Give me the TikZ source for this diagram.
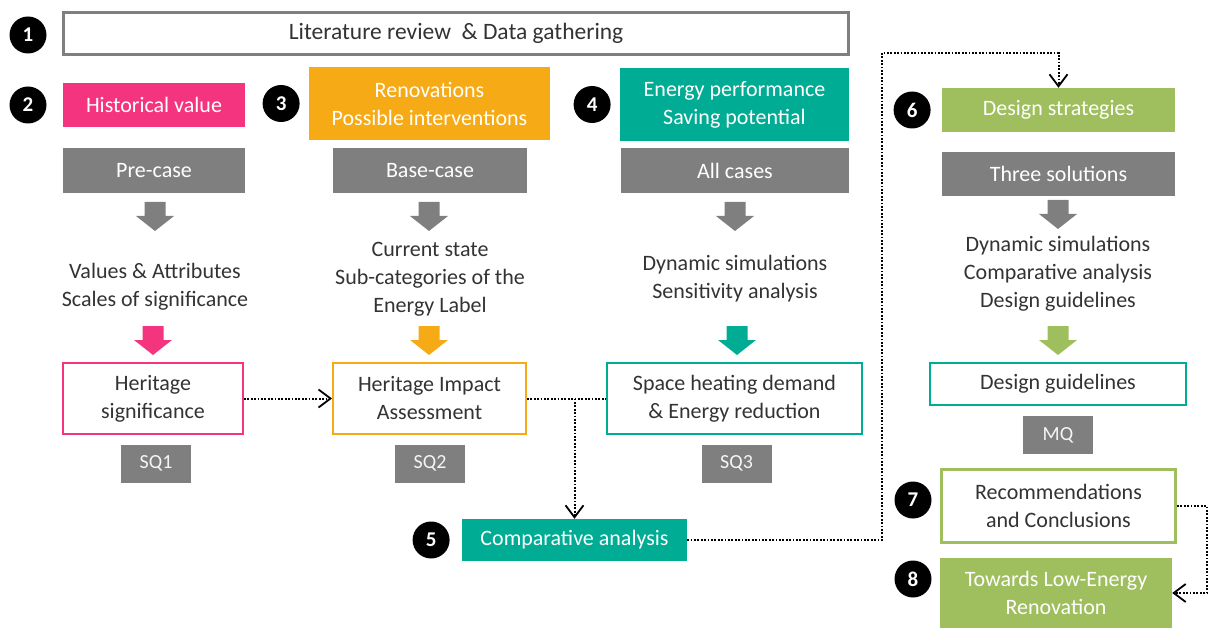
\documentclass[tikz,border=0pt]{standalone}
\usepackage{fontspec}
\setmainfont{Carlito}
\usetikzlibrary{arrows.meta,positioning}
\definecolor{pinkc}{HTML}{F5347F}
\definecolor{orangec}{HTML}{F6AA16}
\definecolor{tealc}{HTML}{00AC94}
\definecolor{greenc}{HTML}{9FBE5E}
\definecolor{grayc}{HTML}{7F7F7F}
\definecolor{inkc}{HTML}{333333}
\tikzset{txt/.style={font=\fontsize{22}{28}\selectfont,align=center,text=inkc,inner sep=0pt},
  fillbox/.style={txt,fill=#1,text=white,minimum height=44pt},
  linebox/.style={txt,draw=#1,line width=2pt,fill=white,minimum height=71pt},
  qbox/.style={fill=grayc,text=white!92!gray,font=\fontsize{20}{24}\selectfont,
    minimum width=70pt,minimum height=38pt,inner sep=0pt},
  num/.style={circle,fill=black,text=white,font=\fontsize{21}{24}\selectfont\bfseries,
    minimum size=37pt,inner sep=0pt},
  link/.style={black,line width=2pt,dash pattern=on 1.8pt off 1.6pt},
  tip/.style={-{Straight Barb[length=12pt,width=18pt,line width=1.8pt]}},
  dnarrow/.pic={\fill[#1] (-10.5,0) -- (10.5,0) -- (10.5,14) -- (19,14) -- (0,29) -- (-19,14) -- (-10.5,14) -- cycle;}}

\begin{document}
\begin{tikzpicture}[x=1pt,y=-1pt]
\useasboundingbox (0,0) rectangle (1209,628);
% step 1
\node[txt,draw=grayc,line width=3pt,minimum width=785pt,minimum height=42pt,
  font=\fontsize{23.5}{28}\selectfont] (lit) at (456,33.5) {Literature review~ \& Data gathering};
\node[num] (n1) at (28,35) {1};
% steps 2-4 and 6: headers
\node[fillbox=pinkc,minimum width=182pt] (hist) at (154,105) {Historical value};
\node[fillbox=orangec,minimum width=241pt,minimum height=73pt] (reno) at (429.5,103.5) {Renovations\\Possible interventions};
\node[fillbox=tealc,minimum width=229pt,minimum height=73pt] (enrg) at (734.5,104.5) {Energy performance\\Saving potential};
\node[fillbox=greenc,minimum width=233pt] (dstrat) at (1058.5,110) {Design strategies};
\node[num] (n2) at (28,105) {2};
\node[num,left=9pt of reno] (n3) {3};
\node[num,left=9pt of enrg] (n4) {4};
\node[num,left=11pt of dstrat] (n6) {6};
% cases
\node[fillbox=grayc,minimum width=182pt,minimum height=45pt] (pre) at (154,170.5) {Pre-case};
\node[fillbox=grayc,minimum width=194pt,minimum height=45pt] (base) at (430,170.5) {Base-case};
\node[fillbox=grayc,minimum width=228pt,minimum height=45pt] (allc) at (735,170.5) {All cases};
\node[fillbox=grayc,minimum width=233pt] (three) at (1058.5,174) {Three solutions};
\pic at (155,202) {dnarrow=grayc};
\pic at (429,202) {dnarrow=grayc};
\pic at (735,202) {dnarrow=grayc};
\pic at (1058,200) {dnarrow=grayc};
% methods
\node[txt] (vals) at (155,287) {Values \& Attributes\\Scales of significance};
\node[txt] (curr) at (430,279) {Current state\\Sub-categories of the\\Energy Label};
\node[txt] (dyn) at (735,279) {Dynamic simulations\\Sensitivity analysis};
\node[txt] (dyn2) at (1058,274) {Dynamic simulations\\Comparative analysis\\Design guidelines};
\pic at (153,326) {dnarrow=pinkc};
\pic at (429,326) {dnarrow=orangec};
\pic at (737,326) {dnarrow=tealc};
\pic at (1058,326) {dnarrow=greenc};
% results
\node[linebox=pinkc,minimum width=180pt] (hsig) at (153,398.5) {Heritage\\significance};
\node[linebox=orangec,minimum width=193pt] (hia) at (429.5,398.5) {Heritage Impact\\Assessment};
\node[linebox=tealc,minimum width=255pt] (shd) at (734.5,398.5) {Space heating demand\\\& Energy reduction};
\node[linebox=tealc,minimum width=256pt,minimum height=42pt] (dg) at (1058,384) {Design guidelines};
\node[qbox] (sq1) at (156,463.5) {SQ1};
\node[qbox] (sq2) at (430,463.5) {SQ2};
\node[qbox] (sq3) at (736.5,463.5) {SQ3};
\node[qbox] (mq) at (1058,435) {MQ};
% steps 5, 7, 8
\node[fillbox=tealc,minimum width=225pt,minimum height=42pt] (comp) at (574.5,540) {Comparative analysis};
\node[linebox=greenc,line width=3pt,minimum width=234pt,minimum height=73pt] (rec) at (1058.5,506) {Recommendations\\and Conclusions};
\node[fillbox=greenc,minimum width=232pt,minimum height=70pt] (low) at (1056,593) {Towards Low-Energy\\Renovation};
\node[num,left=12pt of comp] (n5) {5};
\node[num] (n7) at (913,500) {7};
\node[num] (n8) at (913,579) {8};
% dotted links
\coordinate (turn) at (882,53);
\coordinate (edge) at (1207,506);
\draw[link,tip] (hsig.east) -- (hia.west);
\draw[link] (hia.east) -- (shd.west);
\draw[link,tip] (hia.east -| comp.north) -- (comp.north);
\draw[link,tip] (comp.east) -| (turn) -| (dstrat.north);
\draw[link,tip] (rec.east) -- (edge) |- (low.east);
\end{tikzpicture}
\end{document}
